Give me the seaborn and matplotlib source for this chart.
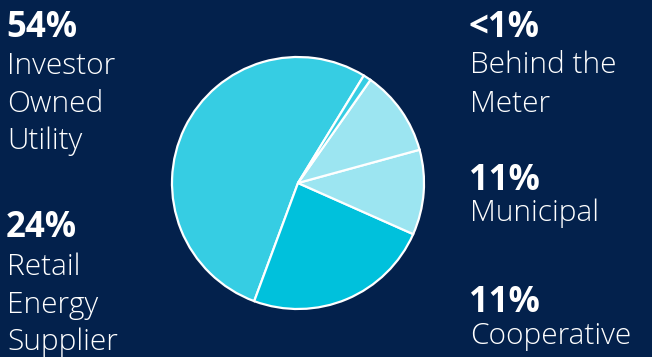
import matplotlib
matplotlib.use("Agg")
import matplotlib.pyplot as plt
import seaborn as sns

# Data
categories = ["Investor Owned Utility", "Retail Energy Supplier", "Cooperative", "Municipal", "Behind the Meter"]
shares = [53.1, 24.0, 10.9, 11.0, 1.0]
pct_labels = ["54%", "24%", "11%", "11%", "<1%"]
name_lines = [["Investor", "Owned", "Utility"], ["Retail", "Energy", "Supplier"],
              ["Cooperative"], ["Municipal"], ["Behind the", "Meter"]]
colors = ["#36cde3", "#00c1dc", "#9ce5f1", "#9ce5f1", "#36cde3"]

BG = "#03214c"
sns.set_theme(style="white")
plt.rcParams["font.family"] = ["Open Sans", "DejaVu Sans"]

W, H = 652, 357
fig = plt.figure(figsize=(W / 100, H / 100), dpi=100, facecolor=BG)

cx, cy, r = 298, 183, 126
pad = 1.05
ax = fig.add_axes([(cx - r * pad) / W, (H - cy - r * pad) / H, 2 * r * pad / W, 2 * r * pad / H])
ax.set_facecolor(BG)
ax.pie(shares, colors=colors, startangle=58.5, counterclock=True,
       wedgeprops=dict(edgecolor="white", linewidth=1.6))
ax.set_xlim(-pad, pad)
ax.set_ylim(-pad, pad)
ax.set_aspect("equal")
ax.axis("off")

def put(x, y, s, bold=False, size=19):
    fig.text(x / W, 1 - y / H, s, color="white", fontsize=size,
             fontweight="bold" if bold else "light", ha="left", va="baseline")

# (x, pct baseline, first line baseline, line spacing)
layout = {
    0: (6, 37, 74, 37.5),
    1: (6, 237, 275, 37.5),
    2: (469, 312, 344, 37.5),
    3: (469, 190, 221, 37.5),
    4: (469, 37, 73, 39),
}
for i, (x, yp, y1, dy) in layout.items():
    put(x, yp, pct_labels[i], bold=True, size=25)
    for k, line in enumerate(name_lines[i]):
        put(x + 1, y1 + k * dy, line, size=21.5)

fig.savefig("out.png", dpi=100, facecolor=BG)
